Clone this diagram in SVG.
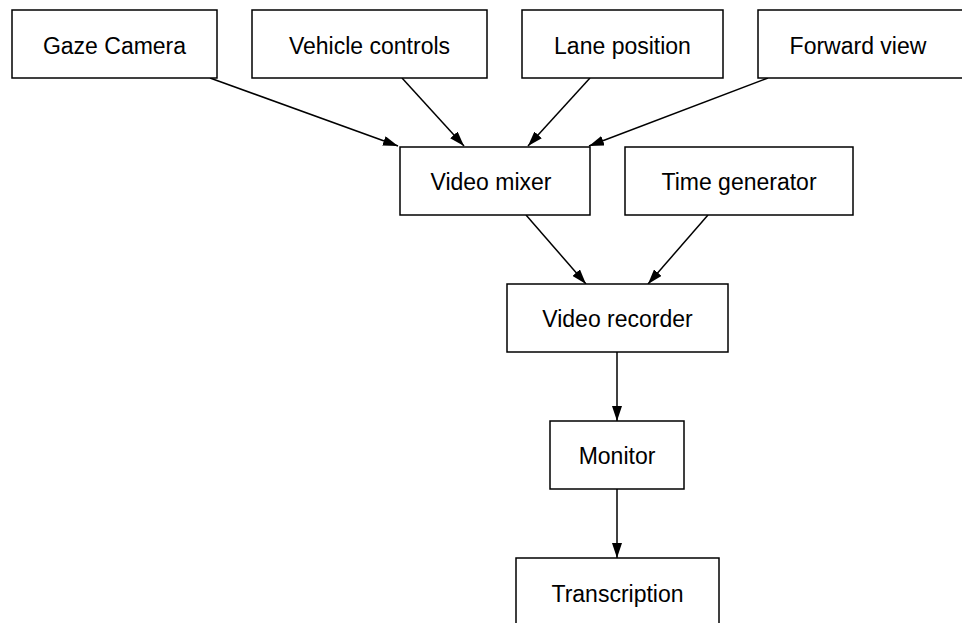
<svg xmlns="http://www.w3.org/2000/svg" width="962" height="623" viewBox="0 0 962 623">
<style>
rect{fill:#fff;stroke:#000;stroke-width:1.5}
text{font-family:"Liberation Sans",Arial,sans-serif;font-size:23px;fill:#000;text-anchor:middle}
.c line{stroke:#000;stroke-width:1.5}
</style>
<defs>
<marker id="a" viewBox="0 0 15 10" refX="15" refY="5" markerWidth="15" markerHeight="10" markerUnits="userSpaceOnUse" orient="auto">
<path d="M0,0 L15,5 L0,10 Z" fill="#000"/>
</marker>
</defs>
<rect x="0" y="0" width="962" height="623" style="stroke:none"/>
<g class="c">
<line x1="210" y1="78" x2="398" y2="146" marker-end="url(#a)"/>
<line x1="402" y1="78" x2="464" y2="146" marker-end="url(#a)"/>
<line x1="590" y1="78" x2="528" y2="146" marker-end="url(#a)"/>
<line x1="768" y1="78" x2="589" y2="146" marker-end="url(#a)"/>
<line x1="526" y1="215" x2="586" y2="284" marker-end="url(#a)"/>
<line x1="708" y1="215" x2="648" y2="284" marker-end="url(#a)"/>
<line x1="617" y1="352" x2="617" y2="421" marker-end="url(#a)"/>
<line x1="617" y1="489" x2="617" y2="558" marker-end="url(#a)"/>
</g>
<g id="gaze"><rect x="12" y="10" width="205" height="68"/><text x="114.5" y="54">Gaze Camera</text></g>
<g id="vehicle"><rect x="252" y="10" width="235" height="68"/><text x="369.5" y="54">Vehicle controls</text></g>
<g id="lane"><rect x="522" y="10" width="201" height="68"/><text x="622.5" y="54">Lane position</text></g>
<g id="forward"><rect x="758" y="10" width="206" height="68"/><text x="858" y="54">Forward view</text></g>
<g id="mixer"><rect x="400" y="147" width="190" height="68"/><text x="491" y="190">Video mixer</text></g>
<g id="timegen"><rect x="625" y="147" width="228" height="68"/><text x="739" y="190">Time generator</text></g>
<g id="recorder"><rect x="507" y="284" width="221" height="68"/><text x="617.5" y="327">Video recorder</text></g>
<g id="monitor"><rect x="550" y="421" width="134" height="68"/><text x="617" y="464">Monitor</text></g>
<g id="transcription"><rect x="516" y="558" width="203" height="75"/><text x="617.5" y="602">Transcription</text></g>
</svg>
